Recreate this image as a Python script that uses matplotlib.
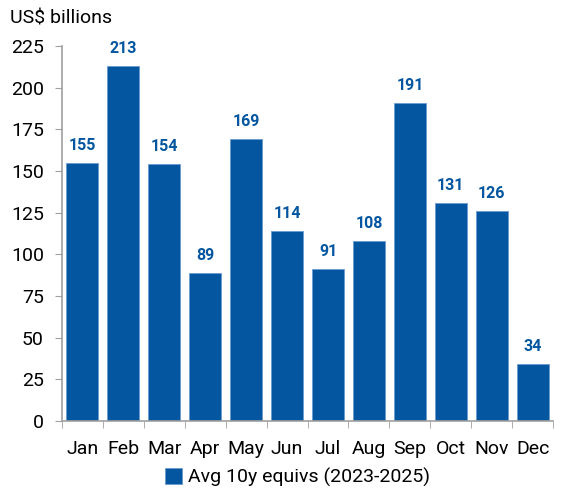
import matplotlib
matplotlib.use('Agg')
import matplotlib.pyplot as plt
from matplotlib import font_manager

months = ['Jan', 'Feb', 'Mar', 'Apr', 'May', 'Jun', 'Jul', 'Aug', 'Sep', 'Oct', 'Nov', 'Dec']
avg_10y = [155, 213, 154, 89, 169, 114, 91, 108, 191, 131, 126, 34]
yticks = [0, 25, 50, 75, 100, 125, 150, 175, 200, 225]

names = {f.name for f in font_manager.fontManager.ttflist}
fam = 'Liberation Sans Narrow' if 'Liberation Sans Narrow' in names else 'Roboto'
plt.rcParams['font.family'] = [fam, 'DejaVu Sans']

blue = '#03569f'
grey = '#a0a0a0'

fig = plt.figure(figsize=(5.61, 4.91), dpi=100)
ax = fig.add_axes([0.1105, 0.1426, 0.8755, 0.7634])

x = list(range(len(months)))
bars = ax.bar(x, avg_10y, width=0.78, color=blue, edgecolor='#6a9bd0', linewidth=0.6,
              label='Avg 10y equivs (2023-2025)')
for xi, v in zip(x, avg_10y):
    ax.text(xi, v + 6, str(v), ha='center', va='bottom', fontsize=11.5,
            fontweight='bold', color=blue)

ax.set_xlim(-0.5, 11.5)
ax.set_ylim(0, 225)
ax.set_yticks(yticks)
ax.set_xticks(x)
ax.set_xticklabels(months)
ax.set_xticks([i + 0.5 for i in range(-1, 12)], minor=True)
ax.tick_params(axis='x', which='major', length=0, pad=14, labelsize=14)
ax.tick_params(axis='x', which='minor', length=5, color=grey, direction='out')
ax.tick_params(axis='y', length=5, color=grey, labelsize=14, pad=8)

for s in ['top', 'right']:
    ax.spines[s].set_visible(False)
for s in ['left', 'bottom']:
    ax.spines[s].set_color(grey)
    ax.spines[s].set_linewidth(1.2)

fig.text(0.018, 0.963, 'US$ billions', fontsize=14, ha='left', va='center')

fig.legend(handles=[bars], loc='center', bbox_to_anchor=(0.53, 0.027), frameon=False,
           fontsize=14, handlelength=0.9, handleheight=0.9, handletextpad=0.3)

fig.savefig('out.png', dpi=100)
